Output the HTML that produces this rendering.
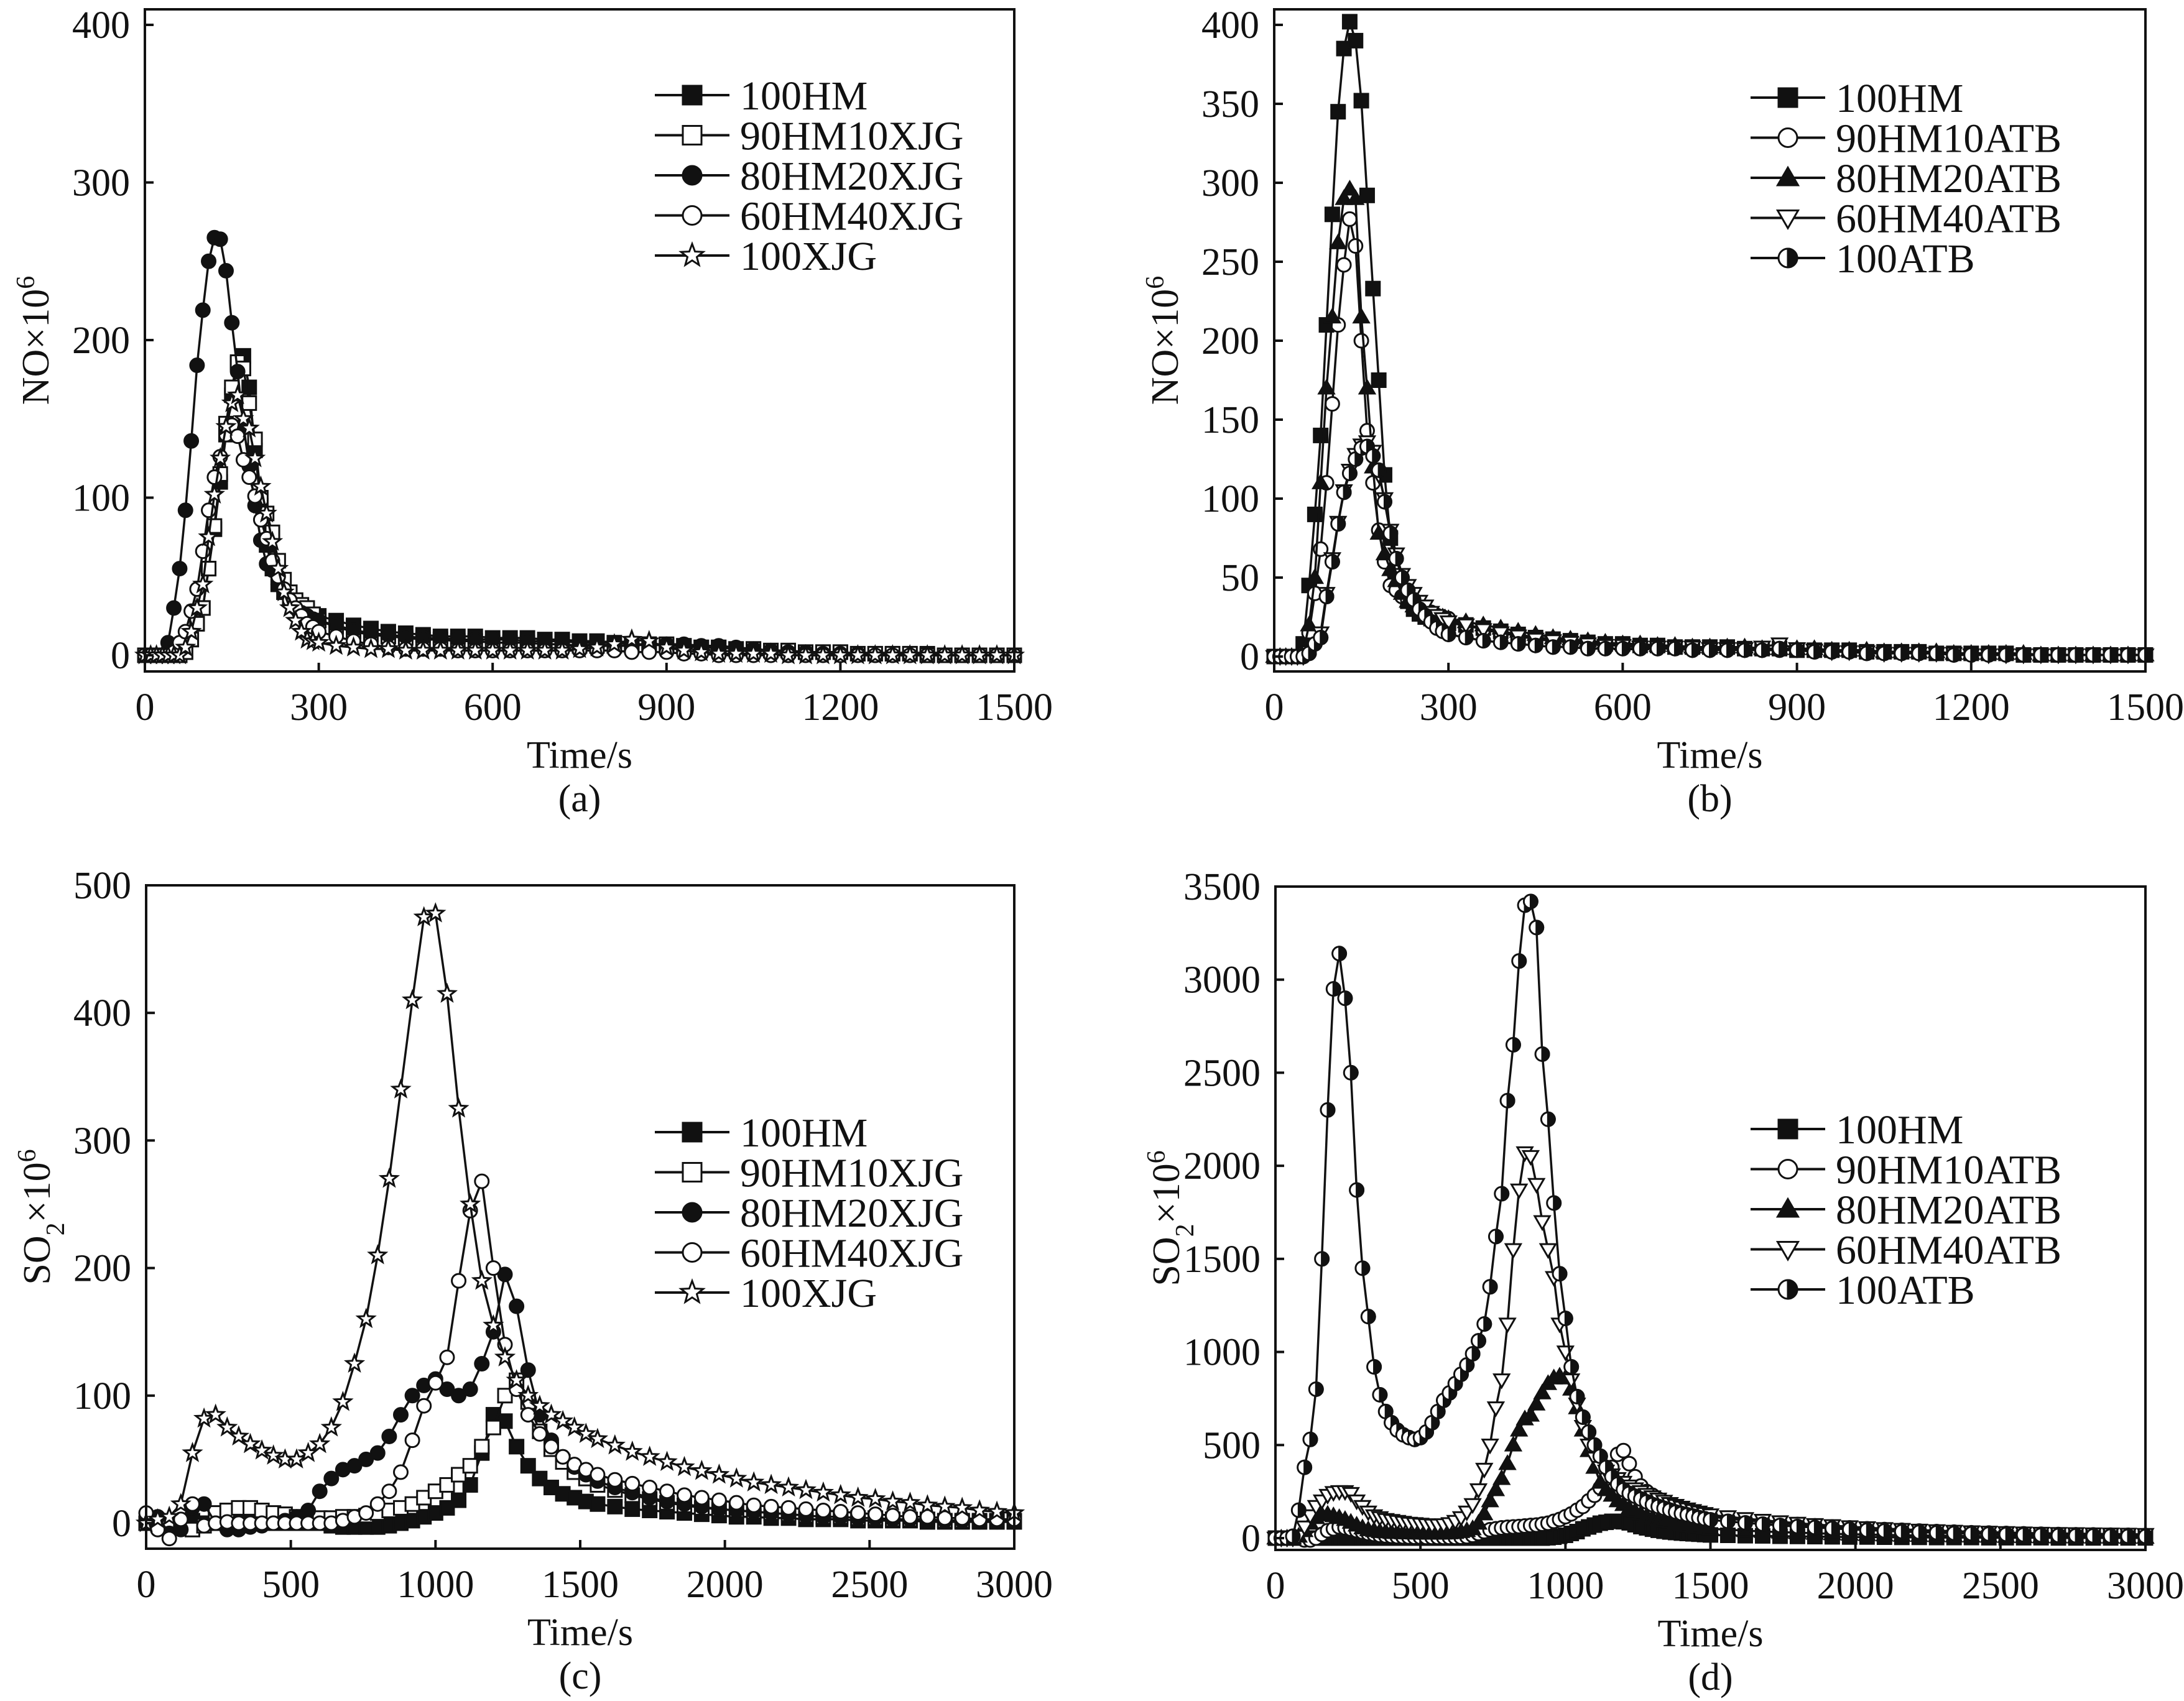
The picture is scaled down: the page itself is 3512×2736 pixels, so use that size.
<!DOCTYPE html>
<html><head><meta charset="utf-8">
<style>
html,body{margin:0;padding:0;background:#fff;}
svg{display:block;}
text{font-family:"Liberation Serif",serif;fill:#111;}
</style></head>
<body>
<svg id="chart" xmlns="http://www.w3.org/2000/svg" width="3512" height="2736" viewBox="0 0 3512 2736" font-family="'Liberation Serif', serif">
</svg>
<script>
// ---------- Data ----------
const timeNO = [0,10,20,30,40,50,60,70,80,90,100,110,120,130,140,150,160,170,180,190,200,210,220,230,240,250,260,270,280,290,300,
330,360,390,420,450,480,510,540,570,600,630,660,690,720,750,780,810,840,870,900,930,960,990,1020,1050,1080,1110,1140,1170,1200,1230,1260,1290,1320,1350,1380,1410,1440,1470,1500];

const a_100HM = [0,0,0,0,0,0,0,2,10,20,30,55,80,110,140,165,185,190,170,130,95,70,55,45,40,36,32,30,28,26,25,
22,19,17,15,14,13,12,12,12,11,11,11,10,10,9,9,8,7,7,6,6,5,5,4,4,3,3,2,2,2,1,1,1,1,1,0,0,0,0,0];
const a_90HM10XJG = [0,0,0,0,0,0,0,2,10,20,30,55,82,115,147,170,186,182,160,137,100,90,78,60,48,40,35,32,30,26,22,
18,15,13,12,11,10,10,9,9,8,8,8,7,7,6,6,6,6,7,7,6,5,5,4,4,3,3,2,2,2,1,1,1,1,0,0,0,0,0,0];
const a_80HM20XJG = [0,0,0,0,8,30,55,92,136,184,219,250,265,264,244,211,180,146,120,95,73,58,54,45,40,35,30,27,25,23,22,
19,16,14,13,12,11,11,10,10,10,10,9,9,9,8,8,8,7,7,7,7,6,6,5,4,3,2,2,1,1,1,0,0,0,0,0,0,0,0,0];
const a_60HM40XJG = [0,0,0,0,0,2,8,15,28,42,66,92,113,126,140,146,139,124,113,101,86,74,60,50,42,35,30,25,20,18,15,
12,9,7,5,4,4,4,3,3,3,3,3,3,3,3,3,3,2,2,2,1,1,0,0,0,0,0,0,0,0,0,0,0,0,0,0,0,0,0,0];
const a_100XJG = [0,0,0,0,0,0,0,5,15,30,45,75,102,125,145,160,165,150,144,125,107,90,72,55,40,30,22,15,10,9,8,
6,5,4,4,3,3,3,3,3,3,3,3,3,3,4,5,7,10,9,5,3,2,1,1,1,1,0,0,0,0,0,0,0,0,0,0,0,0,0,0];

const b_100HM = [0,0,0,0,0,8,45,90,140,210,280,345,385,402,390,352,292,233,175,115,75,50,42,35,30,27,25,24,23,22,21,
20,18,16,14,12,11,10,9,8,8,7,7,6,6,6,6,5,5,5,4,4,4,4,3,3,3,3,2,2,2,2,2,1,1,1,1,1,1,1,1];
const b_90HM10ATB = [0,0,0,0,0,2,15,40,68,110,160,210,248,277,260,200,143,110,80,60,45,42,38,36,34,32,30,28,26,25,24,
20,17,15,13,11,10,9,8,7,7,6,6,6,5,5,5,5,4,4,4,4,3,3,3,3,3,2,2,2,2,2,2,1,1,1,1,1,1,1,1];
const b_80HM20ATB = [0,0,0,0,0,3,20,50,110,170,215,262,290,296,290,215,170,120,78,65,55,48,40,35,32,30,28,27,26,25,24,
22,20,18,16,14,12,11,10,9,8,8,7,7,6,6,6,6,5,5,5,5,4,4,4,3,3,3,3,2,2,2,2,2,1,1,1,1,1,1,1];
const b_60HM40ATB = [0,0,0,0,0,0,3,8,15,40,62,85,105,118,128,134,136,130,115,100,80,65,52,45,40,35,32,28,26,24,22,
20,17,15,13,11,10,9,8,7,7,6,6,6,6,5,5,5,6,8,5,4,3,3,3,2,2,2,2,2,1,1,1,1,1,1,1,1,1,1,1];
const b_100ATB = [0,0,0,0,0,0,2,8,12,38,60,84,104,116,125,132,133,127,118,98,78,62,50,42,36,30,26,22,18,16,14,
12,10,9,8,7,6,6,5,5,5,5,5,5,4,4,4,4,4,5,4,3,3,3,2,2,2,2,2,1,1,1,1,1,1,1,1,1,1,1,1];

const timeC = [0,40,80,120,160,200,240,280,320,360,400,440,480,520,560,600,640,680,720,760,800,840,880,920,960,1000,1040,1080,1120,1160,1200,1240,1280,1320,1360,1400,1440,1480,1520,
1560,1620,1680,1740,1800,1860,1920,1980,2040,2100,2160,2220,2280,2340,2400,2460,2520,2580,2640,2700,2760,2820,2880,2940,3000];
const c_100HM = [0,0,-3,0,2,0,0,0,0,0,0,0,0,0,0,0,-2,-3,-3,-3,-3,-2,0,2,5,8,12,18,30,55,85,80,60,45,35,28,23,20,17,
15,13,11,10,9,8,7,6,5,5,4,4,3,3,3,2,2,2,2,1,1,1,1,1,1];
const c_90HM10XJG = [0,2,0,-3,-5,-2,8,10,12,12,10,8,7,5,5,4,4,5,5,6,8,10,12,15,20,25,30,38,45,60,75,100,112,95,72,58,48,40,35,
30,26,22,19,16,14,12,11,10,9,8,7,6,5,5,4,4,3,3,3,2,2,2,2,2];
const c_80HM20XJG = [0,5,-8,-5,12,15,0,-5,-5,-3,-2,0,2,5,10,25,35,42,45,50,55,68,85,100,108,113,105,100,105,125,150,195,170,120,85,65,52,44,38,
33,28,24,20,17,15,13,11,10,9,8,7,6,5,5,4,4,3,3,2,2,2,1,1,1];
const c_60HM40XJG = [8,-5,-12,3,15,-2,0,1,0,0,0,0,0,0,0,0,0,2,5,8,15,25,40,65,92,110,130,190,245,268,200,140,105,85,70,60,52,46,42,
38,34,31,28,25,22,20,18,16,14,13,12,11,10,9,8,7,6,5,5,4,4,3,3,3];
const c_100XJG = [0,3,5,15,55,82,85,75,68,62,57,53,50,50,55,62,75,95,125,160,210,270,340,410,475,478,415,325,250,190,155,130,112,100,92,85,80,75,70,
66,61,56,52,48,44,41,38,35,32,30,28,26,24,22,20,19,17,16,14,13,12,10,9,8];

const timeD = [0,20,40,60,80,100,120,140,160,180,200,220,240,260,280,300,320,340,360,380,400,420,440,460,480,500,520,540,560,580,
600,620,640,660,680,700,720,740,760,780,800,820,840,860,880,900,920,940,960,980,1000,1020,1040,1060,1080,1100,1120,1140,1160,1180,
1200,1220,1240,1260,1280,1300,1320,1340,1360,1380,1400,1420,1440,1460,1480,1500,
1560,1620,1680,1740,1800,1860,1920,1980,2040,2100,2160,2220,2280,2340,2400,2460,2520,2580,2640,2700,2760,2820,2880,2940,3000];
const d_100HM = [0,0,0,0,0,0,0,0,0,0, 0,0,0,0,0,0,0,0,0,0, 0,0,0,0,0,0,0,0,0,0, 0,0,0,0,0,0,0,0,0,0,
0,0,0,0,0,0,0,2,5,10, 15,25,35,50,60,70,80,85,90,90, 88,82,72,62,55,48,42,37,33,30, 27,25,23,21,19,17,
15,13,12,10,9,8,7,6,6,5,4,4,3,3,3,2,2,2,2,1,1,1,1,1,1];
const d_90HM10ATB = [0,0,0,0,0,-10,-10,0,20,40, 50,60,55,48,40,32,25,20,15,12, 10,8,7,6,5,5,4,4,4,4, 4,4,5,8,15,25,35,45,50,55,
58,60,62,65,68,70,75,80,90,100, 115,130,150,170,200,230,270,320,380,450, 470,400,330,280,250,230,210,195,180,168, 157,147,138,130,122,115,
105,96,88,80,73,66,60,55,50,46,42,38,35,32,29,27,25,23,21,19,18,17,16,15,14];
const d_80HM20ATB = [0,0,0,0,10,40,80,110,125,128, 120,110,100,85,70,55,45,40,35,33, 30,30,28,28,27,27,26,26,26,27, 28,30,35,40,50,80,130,200,260,320,
400,500,580,640,660,720,780,830,860,870, 860,800,700,580,470,380,300,260,230,200, 180,160,145,130,118,108,100,92,85,78, 72,67,62,58,54,50,
45,40,36,32,29,26,23,21,19,17,15,14,13,12,11,10,9,8,7,6,6,5,5,4,4];
const d_60HM40ATB = [0,0,0,0,10,60,120,170,200,230, 245,250,250,240,200,170,140,120,110,100, 95,90,85,80,78,75,72,70,70,72, 78,90,110,140,180,260,370,500,700,850,
1150,1550,1870,2070,2050,1900,1700,1550,1400,1150, 1000,850,720,600,500,430,380,360,340,320, 300,280,265,250,235,222,210,198,186,176, 166,157,148,140,132,125,
115,105,96,88,80,73,67,61,56,51,47,43,40,37,34,32,30,28,26,25,24,23,22,21,20];
const d_100ATB = [0,0,0,10,150,380,530,800,1500,2300, 2950,3140,2900,2500,1870,1450,1190,920,770,680, 620,580,555,540,530,540,570,620,680,740, 780,830,880,930,990,1060,1150,1350,1620,1850,
2350,2650,3100,3400,3420,3280,2600,2250,1800,1420, 1180,920,760,650,570,500,440,380,330,290, 260,240,225,210,195,180,170,160,150,140, 132,125,118,110,104,98,
90,82,75,68,62,57,52,47,43,39,35,32,29,26,24,22,20,18,16,14,13,12,11,10,9];

const ticksNOx = [0,300,600,900,1200,1500];
const ticksAy = [0,100,200,300,400];
const ticksBy = [0,50,100,150,200,250,300,350,400];
const ticksSOx = [0,500,1000,1500,2000,2500,3000];
const ticksCy = [0,100,200,300,400,500];
const ticksDy = [0,500,1000,1500,2000,2500,3000,3500];

const namesA = ["100HM","90HM10XJG","80HM20XJG","60HM40XJG","100XJG"];
const namesB = ["100HM","90HM10ATB","80HM20ATB","60HM40ATB","100ATB"];

// ---------- Rendering ----------
const NS = "http://www.w3.org/2000/svg";
const svg = document.getElementById('chart');
function el(tag, parent){ const e=document.createElementNS(NS,tag); parent.appendChild(e); return e; }

function starPath(cx,cy,r){
  let d="";
  for(let i=0;i<10;i++){
    const rr = i%2===0? r : r*0.42;
    const ang = -Math.PI/2 + i*Math.PI/5;
    d += (i===0?"M":"L")+(cx+rr*Math.cos(ang)).toFixed(1)+","+(cy+rr*Math.sin(ang)).toFixed(1);
  }
  return d+"Z";
}
function drawMarker(g, shape, x, y, s){
  const h=s/2; let m;
  if(shape==="sqF"||shape==="sqO"){
    m=el('rect',g); m.setAttribute('x',x-h); m.setAttribute('y',y-h); m.setAttribute('width',s); m.setAttribute('height',s);
    m.setAttribute('fill', shape==="sqF"?"#111":"#fff");
  } else if(shape==="ciF"||shape==="ciO"){
    m=el('circle',g); m.setAttribute('cx',x); m.setAttribute('cy',y); m.setAttribute('r',h);
    m.setAttribute('fill', shape==="ciF"?"#111":"#fff");
  } else if(shape==="triF"){
    m=el('path',g); m.setAttribute('d',`M${x},${y-h*1.1}L${x+h*1.1},${y+h*0.8}L${x-h*1.1},${y+h*0.8}Z`); m.setAttribute('fill',"#111");
  } else if(shape==="triD"){
    m=el('path',g); m.setAttribute('d',`M${x},${y+h*1.1}L${x+h*1.1},${y-h*0.8}L${x-h*1.1},${y-h*0.8}Z`); m.setAttribute('fill',"#fff");
  } else if(shape==="star"){
    m=el('path',g); m.setAttribute('d',starPath(x,y,h*1.25)); m.setAttribute('fill',"#fff");
  } else if(shape==="half"){
    m=el('circle',g); m.setAttribute('cx',x); m.setAttribute('cy',y); m.setAttribute('r',h); m.setAttribute('fill',"#fff");
    m.setAttribute('stroke',"#111"); m.setAttribute('stroke-width',3);
    m=el('path',g); m.setAttribute('d',`M${x},${y-h}A${h},${h} 0 0 1 ${x},${y+h}Z`); m.setAttribute('fill',"#111");
  }
  m.setAttribute('stroke',"#111"); m.setAttribute('stroke-width',3);
  
  
}

function panel(cfg){
  const g = el('g',svg);
  
  
  const sx = v => cfg.L + (v-cfg.x0)/(cfg.x1-cfg.x0)*(cfg.R-cfg.L);
  const sy = v => cfg.Y0 - v/cfg.ymax*(cfg.Y0-cfg.Ytop);
  cfg.series.forEach((s,si)=>{
    const sg = el('g',g);
    
    
    const n = Math.min(cfg.time.length, s.values.length);
    let d="";
    for(let i=0;i<n;i++){ d += (i?"L":"M")+sx(cfg.time[i]).toFixed(1)+","+sy(s.values[i]).toFixed(1); }
    const p = el('path',sg);
    p.setAttribute('d',d); p.setAttribute('fill','none'); p.setAttribute('stroke','#111'); p.setAttribute('stroke-width',3.5);
    
    
    for(let i=0;i<n;i++) drawMarker(sg, s.shape, sx(cfg.time[i]), sy(s.values[i]), 22);
  });
  const fr = el('rect',g);
  fr.setAttribute('x',cfg.L); fr.setAttribute('y',cfg.T); fr.setAttribute('width',cfg.R-cfg.L); fr.setAttribute('height',cfg.B-cfg.T);
  fr.setAttribute('fill','none'); fr.setAttribute('stroke','#111'); fr.setAttribute('stroke-width',4);
  
  
  cfg.xticks.forEach(v=>{
    const x=sx(v);
    const t=el('line',g); t.setAttribute('x1',x); t.setAttribute('x2',x); t.setAttribute('y1',cfg.B); t.setAttribute('y2',cfg.B-14);
    t.setAttribute('stroke','#111'); t.setAttribute('stroke-width',4);
    
    
    const lb=el('text',g); lb.textContent=v; lb.setAttribute('x',x); lb.setAttribute('y',cfg.B+78);
    lb.setAttribute('text-anchor','middle'); lb.setAttribute('font-size',62);
    
    
  });
  cfg.yticks.forEach(v=>{
    const y=sy(v);
    const t=el('line',g); t.setAttribute('x1',cfg.L); t.setAttribute('x2',cfg.L+14); t.setAttribute('y1',y); t.setAttribute('y2',y);
    t.setAttribute('stroke','#111'); t.setAttribute('stroke-width',4);
    
    
    const lb=el('text',g); lb.textContent=v; lb.setAttribute('x',cfg.L-24); lb.setAttribute('y',y+21);
    lb.setAttribute('text-anchor','end'); lb.setAttribute('font-size',62);
    
    
  });
  const xt=el('text',g); xt.textContent="Time/s"; xt.setAttribute('x',(cfg.L+cfg.R)/2); xt.setAttribute('y',cfg.B+155);
  xt.setAttribute('text-anchor','middle'); xt.setAttribute('font-size',62);
  
  
  const cap=el('text',g); cap.textContent=cfg.caption; cap.setAttribute('x',(cfg.L+cfg.R)/2); cap.setAttribute('y',cfg.B+225);
  cap.setAttribute('text-anchor','middle'); cap.setAttribute('font-size',62);
  
  
  const yt=el('text',g); yt.setAttribute('font-size',62); yt.setAttribute('text-anchor','middle');
  yt.setAttribute('transform',`translate(${cfg.L-155},${(cfg.T+cfg.B)/2}) rotate(-90)`);
  yt.innerHTML = cfg.ytitle;
  
  
  const lg=el('g',g);
  
  
  cfg.series.forEach((s,i)=>{
    const y = cfg.legY + i*64.5;
    const ln=el('line',lg); ln.setAttribute('x1',cfg.legX); ln.setAttribute('x2',cfg.legX+120); ln.setAttribute('y1',y); ln.setAttribute('y2',y);
    ln.setAttribute('stroke','#111'); ln.setAttribute('stroke-width',4);
    
    
    drawMarker(lg, s.shape, cfg.legX+60, y, 30);
    const tx=el('text',lg); tx.textContent=s.label; tx.setAttribute('x',cfg.legX+137); tx.setAttribute('y',y+23); tx.setAttribute('font-size',66);
    
    
  });
}

const shapesA = ["sqF","sqO","ciF","ciO","star"];
const shapesB = ["sqF","ciO","triF","triD","half"];

panel({name:'panel-a', L:233,R:1631,T:15,B:1080,Y0:1054,Ytop:40,ymax:400,x0:0,x1:1500,
  time:timeNO, xticks:ticksNOx, yticks:ticksAy, caption:"(a)", ytitle:'NO×10<tspan baseline-shift="super" font-size="42">6</tspan>',
  legX:1053, legY:153,
  series:[{label:namesA[0],shape:shapesA[0],values:a_100HM},{label:namesA[1],shape:shapesA[1],values:a_90HM10XJG},
          {label:namesA[2],shape:shapesA[2],values:a_80HM20XJG},{label:namesA[3],shape:shapesA[3],values:a_60HM40XJG},
          {label:namesA[4],shape:shapesA[4],values:a_100XJG}]});
panel({name:'panel-b', L:2049,R:3450,T:15,B:1080,Y0:1056,Ytop:40,ymax:400,x0:0,x1:1500,
  time:timeNO, xticks:ticksNOx, yticks:ticksBy, caption:"(b)", ytitle:'NO×10<tspan baseline-shift="super" font-size="42">6</tspan>',
  legX:2815, legY:157,
  series:[{label:namesB[0],shape:shapesB[0],values:b_100HM},{label:namesB[1],shape:shapesB[1],values:b_90HM10ATB},
          {label:namesB[2],shape:shapesB[2],values:b_80HM20ATB},{label:namesB[3],shape:shapesB[3],values:b_60HM40ATB},
          {label:namesB[4],shape:shapesB[4],values:b_100ATB}]});
panel({name:'panel-c', L:235,R:1631,T:1424,B:2491,Y0:2450,Ytop:1424,ymax:500,x0:0,x1:3000,
  time:timeC, xticks:ticksSOx, yticks:ticksCy, caption:"(c)", ytitle:'SO<tspan baseline-shift="sub" font-size="42">2</tspan>×10<tspan baseline-shift="super" font-size="42">6</tspan>',
  legX:1053, legY:1821,
  series:[{label:namesA[0],shape:shapesA[0],values:c_100HM},{label:namesA[1],shape:shapesA[1],values:c_90HM10XJG},
          {label:namesA[2],shape:shapesA[2],values:c_80HM20XJG},{label:namesA[3],shape:shapesA[3],values:c_60HM40XJG},
          {label:namesA[4],shape:shapesA[4],values:c_100XJG}]});
panel({name:'panel-d', L:2051,R:3450,T:1426,B:2493,Y0:2474,Ytop:1426,ymax:3500,x0:0,x1:3000,
  time:timeD, xticks:ticksSOx, yticks:ticksDy, caption:"(d)", ytitle:'SO<tspan baseline-shift="sub" font-size="42">2</tspan>×10<tspan baseline-shift="super" font-size="42">6</tspan>',
  legX:2815, legY:1816,
  series:[{label:namesB[0],shape:shapesB[0],values:d_100HM},{label:namesB[1],shape:shapesB[1],values:d_90HM10ATB},
          {label:namesB[2],shape:shapesB[2],values:d_80HM20ATB},{label:namesB[3],shape:shapesB[3],values:d_60HM40ATB},
          {label:namesB[4],shape:shapesB[4],values:d_100ATB}]});
</script>
</body></html>
